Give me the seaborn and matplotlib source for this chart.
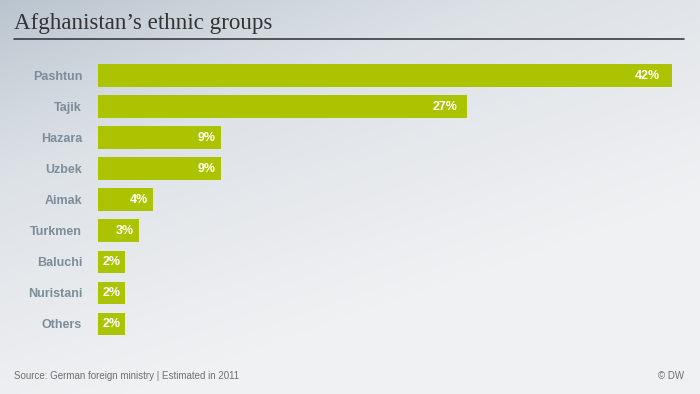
import numpy as np
import pandas as pd
import matplotlib.pyplot as plt
import seaborn as sns
from matplotlib.colors import LinearSegmentedColormap

# Daten
groups = ['Pashtun', 'Tajik', 'Hazara', 'Uzbek', 'Aimak', 'Turkmen', 'Baluchi', 'Nuristani', 'Others']
shares = [42, 27, 9, 9, 4, 3, 2, 2, 2]

title = 'Afghanistan\u2019s ethnic groups'
source = 'Source: German foreign ministry | Estimated in 2011'
credit = '\u00a9 DW'

df = pd.DataFrame({'group': groups, 'share': shares})

sns.set_theme(style='white')
plt.rcParams['font.family'] = ['Liberation Sans', 'DejaVu Sans']

W, H = 700, 394
fig = plt.figure(figsize=(W / 100, H / 100), dpi=100)

# Hintergrund-Verlauf (oben links dunkler)
bg = fig.add_axes([0, 0, 1, 1])
yy, xx = np.mgrid[0:1:200j, 0:1:350j]
t = np.clip(0.55 * xx + 0.9 * yy, 0, 1) ** 0.8
cmap_bg = LinearSegmentedColormap.from_list('bg', ['#b8c3cd', '#dde2e7', '#f0f1f3'])
bg.imshow(t, cmap=cmap_bg, aspect='auto', extent=[0, 1, 0, 1], origin='upper', vmin=0, vmax=1)
bg.set_axis_off()

# Titel und Linie
fig.text(14 / W, 1 - 23 / H, title, family=['Liberation Serif', 'DejaVu Serif'],
         fontsize=16.6, color='#333333', va='center', ha='left')
bg.plot([14 / W, 684 / W], [1 - 38.5 / H, 1 - 38.5 / H], color='#3a3d40', lw=1.2,
        transform=bg.transAxes)

# Balken
ax = fig.add_axes([98 / W, 1 - 339.5 / H, (672 - 98) / W, (339.5 - 60) / H])
ax.patch.set_alpha(0)
sns.barplot(data=df, x='share', y='group', orient='h', color='#abc300',
            saturation=1, width=0.73, linewidth=0, edgecolor='none', ax=ax)
ax.set_xlim(0, 42)
ax.set_ylim(len(groups) - 0.5, -0.5)
ax.set_xlabel('')
ax.set_ylabel('')
ax.set_xticks([])
sns.despine(ax=ax, left=True, bottom=True)
ax.tick_params(axis='y', length=0, pad=11.5)
for lab in ax.get_yticklabels():
    lab.set_fontweight('bold')
    lab.set_fontsize(9)
    lab.set_color('#7b8c9b')

for i, v in enumerate(shares):
    pad = 3 + v * 0.13
    ax.annotate(f'{v}%', xy=(v, i), xytext=(-pad, 0), textcoords='offset points',
                ha='right', va='center', color='white', fontweight='bold', fontsize=9)

# Fußzeile
fig.text(14 / W, 1 - 376 / H, source, fontsize=7, color='#6f6f6f',
         va='center', ha='left')
fig.text(684 / W, 1 - 376 / H, credit, fontsize=7, color='#6f6f6f',
         va='center', ha='right')

fig.savefig('out.png', dpi=100)
